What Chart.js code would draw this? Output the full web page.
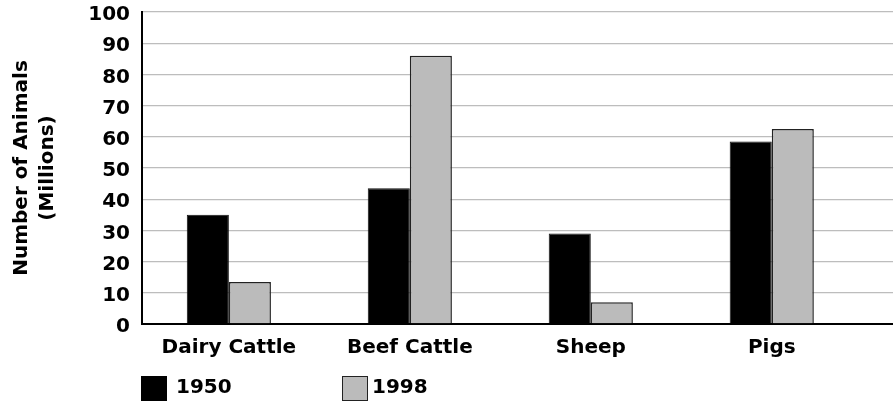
<!DOCTYPE html>
<html>
<head>
<meta charset="utf-8">
<script src="https://cdn.jsdelivr.net/npm/chart.js@4/dist/chart.umd.min.js"></script>
<style>
  body { margin: 0; background: #fff; }
  #wrap { position: relative; width: 893px; height: 402px; }
  .key { position: absolute; top: 376px; width: 26px; height: 25px; box-sizing: border-box; }
  .keyText { position: absolute; top: 374px; font: bold 20px "DejaVu Sans", sans-serif; color: #000; }
</style>
</head>
<body>
<div id="wrap">
  <canvas id="animalChart" width="893" height="402"></canvas>
  <div class="key" style="left:141px;background:#000;"></div>
  <div class="keyText" style="left:176px;">1950</div>
  <div class="key" style="left:342px;background:#bbbbbb;border:1.5px solid #222;"></div>
  <div class="keyText" style="left:372px;">1998</div>
</div>
<script>
const categories = ['Dairy Cattle', 'Beef Cattle', 'Sheep', 'Pigs']
const values1950 = [35, 43.5, 29, 58.5]
const values1998 = [13.5, 86, 7, 62.5]
const yTicks = [0, 10, 20, 30, 40, 50, 60, 70, 80, 90, 100]

const FONT = '"DejaVu Sans", sans-serif'

var ctx = document.getElementById('animalChart')
new Chart(ctx, {
    type: 'bar',
    data: {
        datasets: [{
            label: '1950',
            data: values1950.map((v, i) => ({ x: i, y: v })),
            backgroundColor: '#000000',
            borderColor: '#111111',
            borderWidth: 1
        }, {
            label: '1998',
            data: values1998.map((v, i) => ({ x: i, y: v })),
            backgroundColor: '#bbbbbb',
            borderColor: '#222222',
            borderWidth: 1.5
        }]
    },
    options: {
        responsive: false,
        animation: false,
        categoryPercentage: 0.465,
        barPercentage: 1,
        layout: { padding: { top: 12, right: 0, bottom: 0, left: 0 } },
        plugins: {
            legend: { display: false },
            tooltip: { enabled: false }
        },
        scales: {
            x: {
                type: 'linear',
                min: -0.48,
                max: 3.67,
                offset: false,
                grid: { display: false, drawTicks: false },
                border: { color: '#000', width: 2 },
                afterBuildTicks: (scale) => {
                    scale.ticks = categories.map((c, i) => ({ value: i }))
                },
                ticks: {
                    autoSkip: false,
                    maxRotation: 0,
                    padding: 12,
                    color: '#000',
                    font: { family: FONT, size: 20, weight: 'bold' },
                    callback: (v) => categories[v]
                },
                afterFit: (scale) => { scale.height = 78 }
            },
            y: {
                min: 0,
                max: 100,
                afterBuildTicks: (scale) => {
                    scale.ticks = yTicks.map(v => ({ value: v }))
                },
                grid: { color: '#bdbdbd', lineWidth: 1.3, drawTicks: false },
                border: { color: '#000', width: 2 },
                ticks: {
                    padding: 12,
                    labelOffset: 3,
                    color: '#000',
                    font: { family: FONT, size: 20, weight: 'bold' }
                },
                title: {
                    display: true,
                    text: ['Number of Animals', '(Millions)'],
                    color: '#000',
                    font: { family: FONT, size: 20, weight: 'bold', lineHeight: 1.3 },
                    padding: { top: 9, bottom: 0 }
                },
                afterFit: (scale) => {
                    scale.width = 142
                    scale.paddingTop = 0
                }
            }
        }
    }
})
</script>
</body>
</html>
